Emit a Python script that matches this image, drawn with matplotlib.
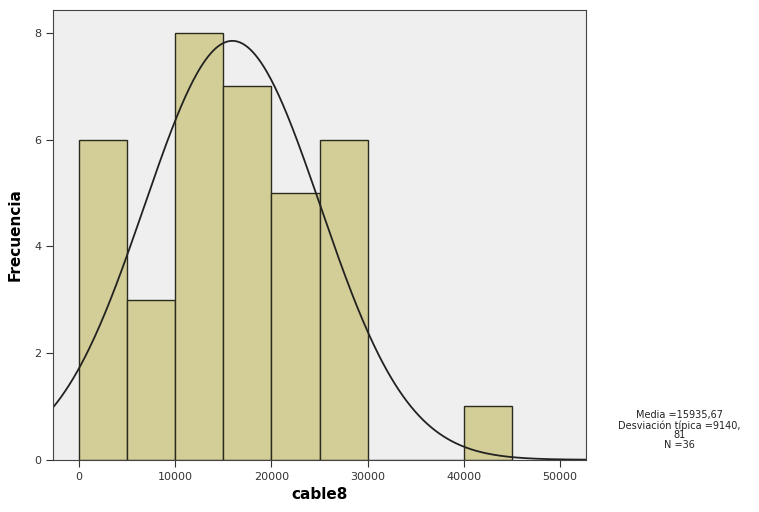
import numpy as np
import matplotlib
matplotlib.use("Agg")
from matplotlib import pyplot as plt

# Datos del histograma #
bin_edges = [0, 5000, 10000, 15000, 20000, 25000, 30000, 35000, 40000, 45000]
counts = [6, 3, 8, 7, 5, 6, 0, 0, 1]
media = 15935.67
desv = 9140.81
n = 36
xticks = [0, 10000, 20000, 30000, 40000, 50000]
yticks = [0, 2, 4, 6, 8]

fig = plt.figure(figsize=(7.59, 5.12), dpi=100)
ax = fig.add_axes([0.070, 0.102, 0.702, 0.878])
ax.set_facecolor("#efeff0")

width = np.diff(bin_edges)
ax.bar(bin_edges[:-1], counts, width=width, align="edge",
       color="#d3ce97", edgecolor="#2b2a1e", linewidth=1.0)

# Curva normal #
xs = np.linspace(-2700, 52700, 400)
ys = n * 5000 / (desv * np.sqrt(2 * np.pi)) * np.exp(-0.5 * ((xs - media) / desv) ** 2)
ax.plot(xs, ys, color="#222222", linewidth=1.3)

ax.set_xlim(-2700, 52700)
ax.set_ylim(0, 8.43)
ax.set_xticks(xticks)
ax.set_yticks(yticks)
ax.tick_params(labelsize=8, colors="#333333", length=5)
for s in ax.spines.values():
    s.set_color("#444444")

ax.set_xlabel("cable8", fontsize=11, fontweight="bold", labelpad=4)
ax.set_ylabel("Frecuencia", fontsize=11, fontweight="bold", labelpad=8)

fig.text(0.895, 0.16, "Media =15935,67\nDesviación típica =9140,\n81\nN =36",
         ha="center", va="center", fontsize=7, linespacing=0.95, color="#222222")

fig.savefig("out.png", dpi=100)
